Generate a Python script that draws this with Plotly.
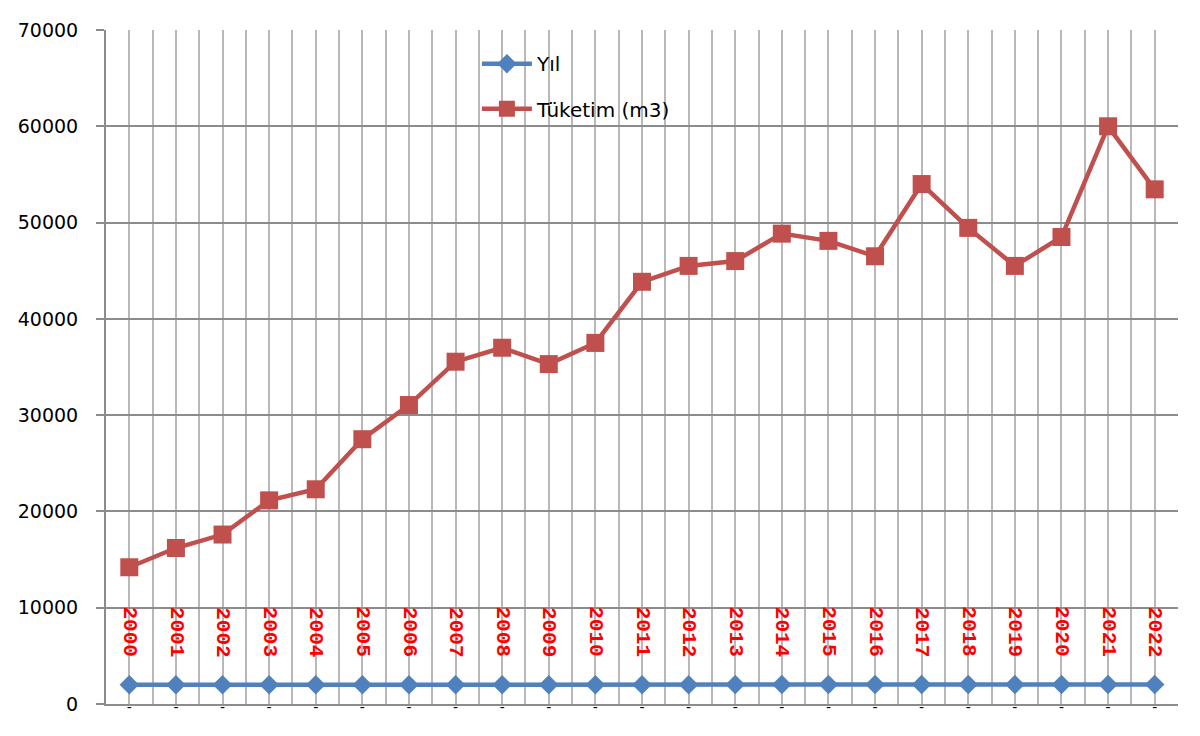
import plotly.graph_objects as go

years = [2000, 2001, 2002, 2003, 2004, 2005, 2006, 2007, 2008, 2009, 2010, 2011,
         2012, 2013, 2014, 2015, 2016, 2017, 2018, 2019, 2020, 2021, 2022]
yil_values = years[:]  # "Yıl" series plotted as its own values
tuketim = [14200, 16200, 17600, 21150, 22300, 27500, 31050, 35550, 37000, 35300, 37500, 43850,
           45500, 46000, 48850, 48100, 46500, 54000, 49450, 45500, 48500, 60000, 53450]
category_labels = ["-"] * len(years)
y_ticks = [0, 10000, 20000, 30000, 40000, 50000, 60000, 70000]
y_tick_labels = [str(v) for v in y_ticks]

xpos = list(range(len(years)))

fig = go.Figure()
fig.add_trace(go.Scatter(
    x=xpos, y=yil_values, name="Yıl", mode="lines+markers",
    line=dict(color="#4F81BD", width=4.5),
    marker=dict(symbol="diamond", size=15, color="#4F81BD"),
    legend="legend",
))
fig.add_trace(go.Scatter(
    x=xpos, y=tuketim, name="Tüketim (m3)", mode="lines+markers",
    line=dict(color="#C0504D", width=4.5),
    marker=dict(symbol="square", size=18, color="#C0504D"),
    legend="legend2",
))

for xi, v in zip(xpos, yil_values):
    fig.add_annotation(
        x=xi, y=v, text=str(v), textangle=90, showarrow=False,
        xanchor="center", yanchor="bottom", yshift=26,
        font=dict(family="Liberation Mono", size=21, color="#FF0000", weight="bold"),
    )

fig.update_layout(
    width=1200, height=736,
    margin=dict(l=98, r=30, t=22, b=40, autoexpand=False),
    paper_bgcolor="white", plot_bgcolor="white",
    font=dict(family="DejaVu Sans", size=19, color="black"),
    legend=dict(x=0.346, y=0.979, xanchor="left", yanchor="top", itemwidth=50,
                bgcolor="rgba(0,0,0,0)", font=dict(size=20)),
    legend2=dict(x=0.346, y=0.912, xanchor="left", yanchor="top", itemwidth=50,
                 bgcolor="rgba(0,0,0,0)", font=dict(size=20)),
    showlegend=True,
)
fig.update_xaxes(
    range=[-0.5, len(years) - 0.5], automargin=False,
    tickmode="array", tickvals=xpos, ticktext=category_labels,
    tickfont=dict(size=14, color="black"),
    ticklabelstandoff=-11,
    showgrid=True, gridcolor="#B8B8B8", gridwidth=2,
    minor=dict(tick0=-0.5, dtick=1, showgrid=True, gridcolor="#B8B8B8", gridwidth=2),
    showline=True, linecolor="#8C8C8C", linewidth=2,
    zeroline=False, ticks="",
)
fig.update_yaxes(
    range=[0, 70000], automargin=False,
    tickmode="array", tickvals=y_ticks, ticktext=y_tick_labels,
    showgrid=True, gridcolor="#8C8C8C", gridwidth=2,
    showline=True, linecolor="#8C8C8C", linewidth=2,
    ticks="outside", ticklen=8, tickcolor="#8C8C8C", tickwidth=2,
    ticklabelstandoff=14, zeroline=False,
    tickfont=dict(size=19, color="black"),
)

fig.write_html("out.html")
